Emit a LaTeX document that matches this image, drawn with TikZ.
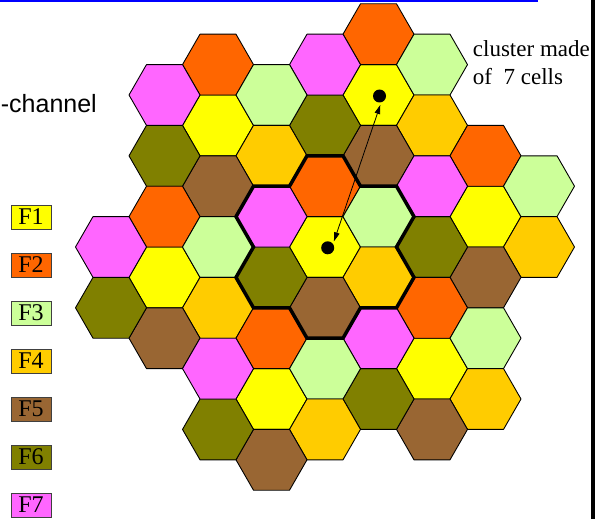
\documentclass[tikz,border=0pt]{standalone}
\usepackage{fontspec}
\setmainfont{Liberation Serif}
\newfontfamily\slideserif{Liberation Serif}
\newfontfamily\slidesans{Liberation Sans}
\usepackage{xcolor}
\definecolor{fyellow}{HTML}{FFFF00}
\definecolor{forange}{HTML}{FF6600}
\definecolor{fgreen}{HTML}{CCFF99}
\definecolor{fgold}{HTML}{FFCC00}
\definecolor{fbrown}{HTML}{996633}
\definecolor{folive}{HTML}{808000}
\definecolor{fpink}{HTML}{FF66FF}
\definecolor{slideblue}{RGB}{0, 0, 255}
\usepackage{tikz}
\usetikzlibrary{arrows.meta}

% one cell: column, half-row, colour
\newcommand{\hexcell}[3]{%
  \draw[cell, fill=#3, shift={({53.5*(#1)}, {30.4*(#2)})}]
    (-35.5,0) -- (-18,-30.4) -- (18,-30.4) -- (35.5,0) -- (18,30.4) -- (-18,30.4) -- cycle;}

\begin{document}
\begin{tikzpicture}[x=1pt, y=-1pt,
    cell/.style={draw=black, line width=0.9pt, line join=round},
    clusterline/.style={draw=black, line width=3.5pt, line join=miter},
    dot/.style={circle, fill=black, inner sep=0pt, minimum size=13pt, outer sep=2.5pt},
    reuse/.style={{Triangle[length=9pt,width=5.5pt]}-{Triangle[length=9pt,width=5.5pt]}, line width=0.8pt},
    keybox/.style={rectangle, draw=black!75, line width=0.8pt, minimum width=40pt, minimum height=24pt, inner sep=0pt, font=\slideserif\fontsize{24}{24}\selectfont}
  ]
    \useasboundingbox (0,0) rectangle (595,519);
    \fill[slideblue] (0,0) rectangle (538,2);
    \fill[black] (591,0) rectangle (595,519);

    \node[anchor=base east, inner sep=0pt, font=\slidesans\fontsize{25}{25}\selectfont] (chan) at (97,113) {-channel};

    \foreach \i/\col in {1/fyellow, 2/forange, 3/fgreen, 4/fgold, 5/fbrown, 6/folive, 7/fpink}
      {\node[keybox, fill=\col] (key\i) at (31, {169+48*\i}) {F\i};}

    \begin{scope}[shift={(325,247)}]
      \foreach \cj/\cn in {0/0, 1/-5, -2/-4, 3/-1, -3/1, 2/4, -1/5}
        {\foreach \dj/\dn/\col in {0/0/fyellow, 0/-2/forange, 1/-1/fgreen, 1/1/fgold, 0/2/fbrown, -1/1/folive, -1/-1/fpink}
          {\hexcell{\cj+\dj}{\cn+\dn}{\col}}}

      \draw[clusterline] (-18,-91.2) -- (18,-91.2) -- (35.5,-60.8) -- (71.5,-60.8) -- (89,-30.4) -- (71.5,0)
        -- (89,30.4) -- (71.5,60.8) -- (35.5,60.8) -- (18,91.2) -- (-18,91.2) -- (-35.5,60.8)
        -- (-71.5,60.8) -- (-89,30.4) -- (-71.5,0) -- (-89,-30.4) -- (-71.5,-60.8) -- (-35.5,-60.8) -- cycle;

      \node[dot] (home) at (2.7,0.8) {};
      \node[dot] (cochan) at (54.5,-151) {};
      \draw[reuse] (home.46) -- (cochan.-85);
    \end{scope}

    \node[anchor=north east, inner sep=0pt, align=left, font=\slideserif\fontsize{23}{28}\selectfont] (note) at (590,40) {cluster made\\of\ \ 7 cells};
  \end{tikzpicture}
\end{document}
